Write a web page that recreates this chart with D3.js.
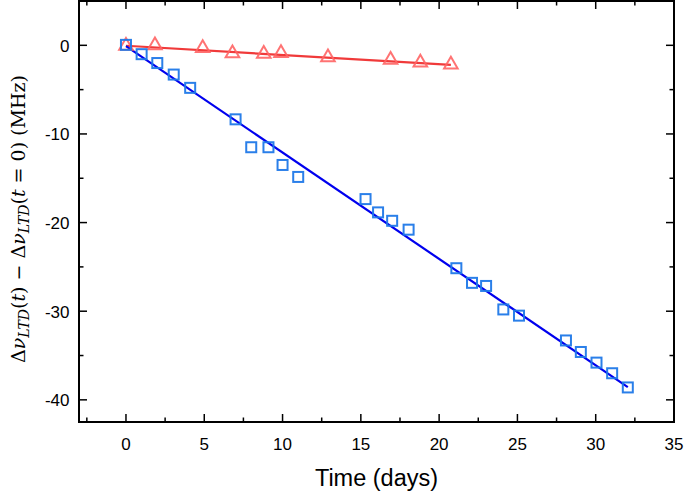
<!DOCTYPE html>
<html>
<head>
<meta charset="utf-8">
<script src="https://cdn.jsdelivr.net/npm/d3@7"></script>
<style>
html,body{margin:0;padding:0;background:#fff;}
svg{display:block;}
</style>
</head>
<body>
<svg id="chart" width="685" height="492"></svg>
<script>
// Data
const redDays   = [0, 1.85, 4.9, 6.8, 8.8, 9.9, 12.9, 16.9, 18.8, 20.75];
const redVals   = [-0.05, 0.0, -0.3, -0.9, -0.95, -0.87, -1.35, -1.65, -1.95, -2.17];
const blueDays  = [0, 1.0, 2.0, 3.05, 4.1, 7.0, 8.0, 9.1, 10.0, 11.0, 15.3, 16.1, 17.0, 18.05,
                   21.1, 22.1, 23.0, 24.1, 25.1, 28.1, 29.05, 30.05, 31.05, 32.05];
const blueVals  = [0.05, -1.0, -2.0, -3.3, -4.8, -8.35, -11.5, -11.5, -13.5, -14.85, -17.35, -18.85, -19.8, -20.8,
                   -25.15, -26.8, -27.15, -29.8, -30.5, -33.3, -34.6, -35.8, -37.0, -38.6];
// Linear fits (intercept, slope) and their drawn ranges
const redFit  = {a: -0.05, b: -0.104, x0: 0, x1: 20.75};
const blueFit = {a: -0.1,  b: -1.2,   x0: 0, x1: 32.05};
const xTicks = [0, 5, 10, 15, 20, 25, 30, 35];
const yTicks = [0, -10, -20, -30, -40];

const svg = d3.select("#chart");
const L = 79, R = 674, T = 1, B = 422;
const x = d3.scaleLinear().domain([-3, 35]).range([L, R]);
const y = d3.scaleLinear().domain([-42.5, 5]).range([B, T]);

const tickFont = "'Liberation Sans', Arial, sans-serif";
const xMinor = d3.range(-2.5, 35, 2.5).filter(v => !xTicks.includes(v));
const yMinor = d3.range(-40, 5, 5).filter(v => !yTicks.includes(v));

const axes = svg.append("g").attr("stroke", "#000").attr("stroke-width", 1.5);
function hTicks(vals, len) {
  vals.forEach(v => {
    axes.append("line").attr("x1", x(v)).attr("x2", x(v)).attr("y1", B).attr("y2", B - len);
    axes.append("line").attr("x1", x(v)).attr("x2", x(v)).attr("y1", T).attr("y2", T + len);
  });
}
function vTicks(vals, len) {
  vals.forEach(v => {
    axes.append("line").attr("y1", y(v)).attr("y2", y(v)).attr("x1", L).attr("x2", L + len);
    axes.append("line").attr("y1", y(v)).attr("y2", y(v)).attr("x1", R).attr("x2", R - len);
  });
}
hTicks(xTicks.filter(v => v < 35), 8);
hTicks(xMinor, 4.5);
vTicks(yTicks, 8);
vTicks(yMinor, 4.5);

axes.append("rect").attr("x", L).attr("y", T).attr("width", R - L).attr("height", B - T)
  .attr("fill", "none").attr("stroke-width", 2);

// tick labels
svg.append("g").selectAll("text").data(xTicks).join("text")
  .attr("x", d => x(d)).attr("y", 449.5)
  .attr("text-anchor", "middle").attr("font-family", tickFont).attr("font-size", 17)
  .text(d => d);
svg.append("g").selectAll("text").data(yTicks).join("text")
  .attr("x", 69.5).attr("y", d => y(d) + 6.3)
  .attr("text-anchor", "end").attr("font-family", tickFont).attr("font-size", 17)
  .text(d => d);

// axis titles
svg.append("text").attr("x", (L + R) / 2).attr("y", 485.5).attr("text-anchor", "middle")
  .attr("font-family", tickFont).attr("font-size", 23.5).text("Time (days)");

const yl = svg.append("text").attr("transform", "translate(25,219) rotate(-90)")
  .attr("text-anchor", "middle").attr("font-family", "'DejaVu Serif','Liberation Serif',serif")
  .attr("font-size", 19);
yl.append("tspan").text("Δ");
yl.append("tspan").attr("font-style", "italic").text("ν");
yl.append("tspan").attr("font-style", "italic").attr("font-size", 14).attr("dy", 4).text("LTD");
yl.append("tspan").attr("dy", -4).text("(");
yl.append("tspan").attr("font-style", "italic").text("t");
yl.append("tspan").text(") − Δ");
yl.append("tspan").attr("font-style", "italic").text("ν");
yl.append("tspan").attr("font-style", "italic").attr("font-size", 14).attr("dy", 4).text("LTD");
yl.append("tspan").attr("dy", -4).text("(");
yl.append("tspan").attr("font-style", "italic").text("t");
yl.append("tspan").text(" = 0)  (MHz)");

// fit lines
const line = d3.line().x(d => x(d[0])).y(d => y(d[1]));
function fitPts(f) { return [[f.x0, f.a + f.b * f.x0], [f.x1, f.a + f.b * f.x1]]; }
svg.append("path").attr("d", line(fitPts(redFit))).attr("stroke", "#f03a3a")
  .attr("stroke-width", 2.2).attr("fill", "none");
svg.append("path").attr("d", line(fitPts(blueFit))).attr("stroke", "#0000ee")
  .attr("stroke-width", 2.2).attr("fill", "none");

// markers
const red = redDays.map((d, i) => [d, redVals[i]]);
const blue = blueDays.map((d, i) => [d, blueVals[i]]);
const tri = d3.symbol().type(d3.symbolTriangle).size(80);
svg.append("g").selectAll("path").data(red).join("path")
  .attr("d", tri).attr("transform", d => `translate(${x(d[0])},${y(d[1])})`)
  .attr("fill", "none").attr("stroke", "#ff6464").attr("stroke-opacity", 0.9).attr("stroke-width", 2);
svg.append("g").selectAll("rect").data(blue).join("rect")
  .attr("x", d => x(d[0]) - 5).attr("y", d => y(d[1]) - 5).attr("width", 10).attr("height", 10)
  .attr("fill", "none").attr("stroke", "#1f78e8").attr("stroke-opacity", 0.95).attr("stroke-width", 2);
</script>
</body>
</html>
